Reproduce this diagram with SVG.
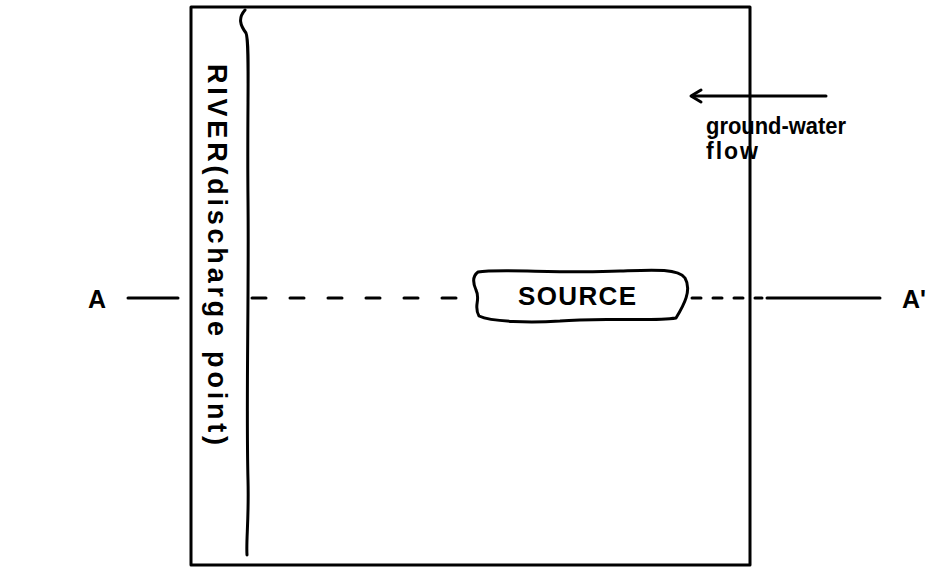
<svg xmlns="http://www.w3.org/2000/svg" width="946" height="571" viewBox="0 0 946 571">
<style>
.ln{fill:none;stroke:#000;stroke-width:3;stroke-linecap:round;stroke-linejoin:round}
.t{font-family:"Liberation Sans",Arial,sans-serif;font-weight:bold;fill:#000}
.s27{font-size:27px}
.s26{font-size:26px}
.s25{font-size:25px}
.s23{font-size:23px}
</style>
<rect width="946" height="571" fill="#fff"/>
<g id="plan">
<rect class="ln" x="191" y="7" width="559" height="558"/>
</g>
<g id="river">
<path class="ln" d="M245 10 C238 18,240 25,246 33 C250 42,247 100,248 200 C249 300,246 400,248 480 C249 520,246 540,247 555"/>
<text class="t s27" transform="translate(208,64) rotate(90)" textLength="381" lengthAdjust="spacing">RIVER(discharge point)</text>
</g>
<g id="source">
<path class="ln" d="M478 272 C500 268,560 274,620 271 C650 270,678 268,685 278 C692 290,684 305,676 318 C650 322,600 317,560 321 C530 323,492 322,479 316 C473 306,481 300,476 290 C472 281,474 275,478 272 Z"/>
<text class="t s26" x="518" y="305" textLength="118" lengthAdjust="spacing">SOURCE</text>
</g>
<g id="labelA">
<text class="t s25" x="88" y="308">A</text>
</g>
<g id="labelA2">
<text class="t s25" x="902" y="308">A'</text>
</g>
<g id="flow">
<text class="t s23" x="706" y="134" textLength="140" lengthAdjust="spacingAndGlyphs">ground-water</text>
<text class="t s23" x="706" y="159" textLength="52" lengthAdjust="spacing">flow</text>
</g>
<g id="connectors">
<line class="ln" x1="128" y1="298" x2="178" y2="298"/>
<line class="ln" x1="252" y1="298" x2="465" y2="298" stroke-dasharray="14 24"/>
<line class="ln" x1="692" y1="298" x2="762" y2="298" stroke-dasharray="9 12"/>
<line class="ln" x1="767" y1="298" x2="880" y2="298"/>
<line class="ln" x1="826" y1="96" x2="692" y2="96"/>
<polyline class="ln" points="701,90 691,96 701,102"/>
</g>
</svg>
